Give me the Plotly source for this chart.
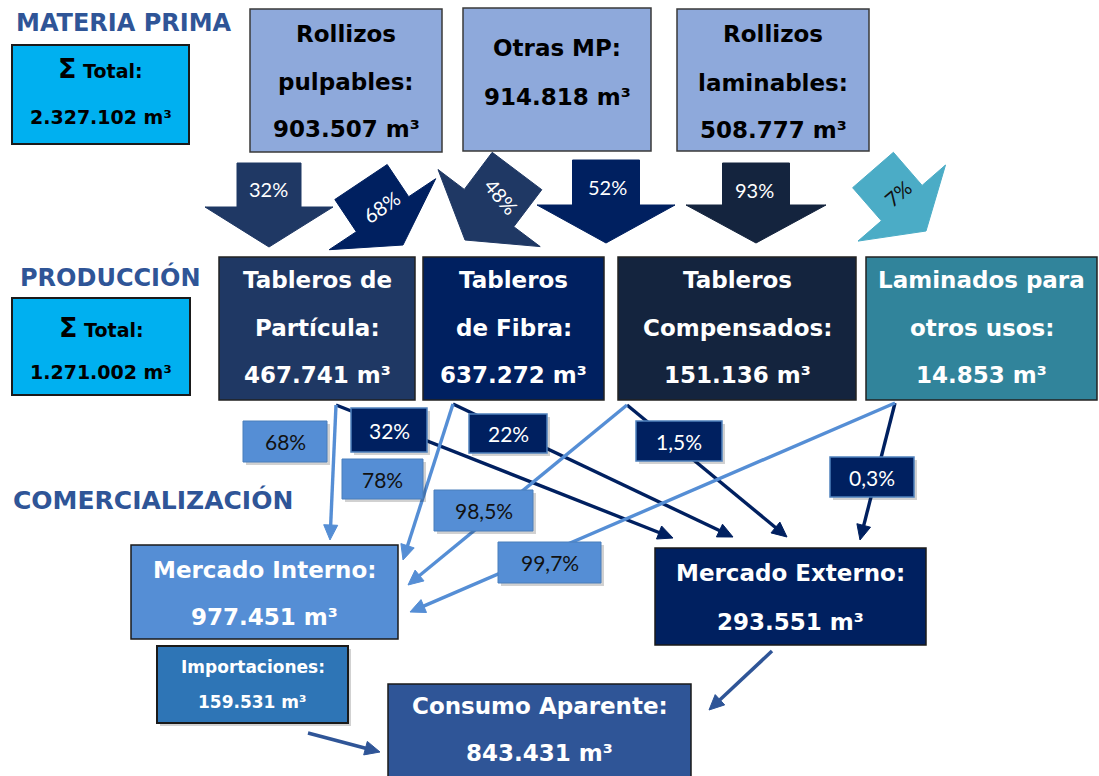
import math
import plotly.graph_objects as go

# ---------------- data ----------------
section_titles = ["MATERIA PRIMA", "PRODUCCIÓN", "COMERCIALIZACIÓN"]

mp_total = 2327102
mp_names = [["Rollizos", "pulpables:"], ["Otras MP:"], ["Rollizos", "laminables:"]]
mp_volumes = [903507, 914818, 508777]

prod_total = 1271002
prod_names = [["Tableros de", "Partícula:"], ["Tableros", "de Fibra:"],
              ["Tableros", "Compensados:"], ["Laminados para", "otros usos:"]]
prod_volumes = [467741, 637272, 151136, 14853]

# raw material -> production shares (block arrows)
mp_flow_labels = ["32%", "68%", "48%", "52%", "93%", "7%"]

# production -> market shares (per product)
interno_shares = ["68%", "78%", "98,5%", "99,7%"]
externo_shares = ["32%", "22%", "1,5%", "0,3%"]

market_names = ["Mercado Interno:", "Mercado Externo:"]
market_volumes = [977451, 293551]
import_name = "Importaciones:"
import_volume = 159531
consumo_name = "Consumo Aparente:"
consumo_volume = 843431

# ---------------- layout (pixel positions & styles) ----------------
W, H = 1099, 776
BOLD = "DejaVu Sans"
LBL = "Lato"
TITLE_C = "#2F5597"

title_pos = [(124, 23, 24), (110, 277, 24), (153, 500, 25)]
total_boxes = [(12, 45, 189, 144), (12, 298, 190, 395)]
total_lines_y = [(68, 117), (327, 372)]
mp_boxes = [(250, 9, 442, 152), (463, 8, 651, 151), (677, 9, 869, 151)]
mp_lines_y = [(34, 82, 129), (48, 97), (34, 83, 130)]
prod_boxes = [(219, 257, 415, 400), (423, 257, 604, 400), (618, 257, 856, 400), (866, 257, 1097, 400)]
prod_lines_y = (280, 328, 375)
prod_fills = ["#1F3864", "#002060", "#14243E", "#31849B"]

# block arrows: tail, tip, shaft width, head width, head length, fill, label pos, angle, text colour
block_arrows = [
    ((269, 163), (269, 247), 64, 128, 40, "#1F3864", (268, 189), 0, "white"),
    ((361, 182), (403, 245), 63, 128, 37, "#002060", (381, 207), -35, "white"),
    ((517, 171), (465, 240), 62, 128, 40, "#1F3864", (501, 196), 50, "white"),
    ((606, 160), (606, 243), 67, 138, 38, "#002060", (607, 187), 0, "white"),
    ((756, 163), (756, 243), 67, 140, 38, "#14243E", (754, 190), 0, "white"),
    ((873, 170), (926, 231), 54, 116, 37, "#4BACC6", (898, 193), -40, "#111111"),
]

line_starts = [(336, 405), (453, 404), (627, 405), (895, 403)]
interno_ends = [(330, 540), (403, 560), (408, 585), (410, 612)]
externo_ends = [(673, 538), (733, 537), (787, 537), (860, 540)]
interno_lbl_boxes = [(243, 421, 327, 462), (342, 459, 423, 499), (434, 490, 533, 531), (498, 542, 601, 583)]
externo_lbl_boxes = [(351, 408, 427, 452), (469, 414, 547, 453), (636, 421, 722, 461), (830, 457, 914, 497)]
LIGHT = "#558ED5"
DARK = "#002060"

mi_box = (131, 545, 398, 639); mi_lines = (570, 617)
me_box = (655, 548, 926, 645); me_lines = (573, 622)
imp_box = (157, 646, 348, 723); imp_lines = (667, 702)
con_box = (388, 684, 691, 800); con_lines = (706, 753)
imp_arrow = ((308, 733), (380, 752))
me_arrow = ((772, 651), (709, 710))

# ---------------- helpers ----------------
shapes = []
annotations = []


def fmt(v):
    return f"{v:,}".replace(",", ".") + " m³"


def rect(b, fill, lc="#000000", lw=1.5, shadow=False):
    x0, y0, x1, y1 = b
    if shadow:
        shapes.append(dict(type="rect", xref="x", yref="y", x0=x0 + 3, y0=y0 + 3, x1=x1 + 3, y1=y1 + 3,
                           fillcolor="rgba(0,0,0,0.18)", line=dict(width=0), layer="above"))
    shapes.append(dict(type="rect", xref="x", yref="y", x0=x0, y0=y0, x1=x1, y1=y1,
                       fillcolor=fill, line=dict(color=lc, width=lw), layer="above"))


def text(x, y, s, size, color, family=BOLD, bold=True, angle=0):
    annotations.append(dict(x=x, y=y, xref="x", yref="y", text=s, showarrow=False,
                            font=dict(family=family, size=size, color=color,
                                      weight="bold" if bold else "normal"),
                            textangle=angle, xanchor="center", yanchor="middle"))


def poly(pts, fill, lc=None, lw=0):
    path = "M " + " L ".join(f"{px:.1f},{py:.1f}" for px, py in pts) + " Z"
    shapes.append(dict(type="path", xref="x", yref="y", path=path, fillcolor=fill,
                       line=dict(color=lc or fill, width=lw), layer="above"))


def block_arrow(tail, tip, sw, hw, hl, fill):
    dx, dy = tip[0] - tail[0], tip[1] - tail[1]
    L = math.hypot(dx, dy)
    ux, uy = dx / L, dy / L
    nx, ny = -uy, ux
    hb = (tip[0] - hl * ux, tip[1] - hl * uy)
    pts = [
        (tail[0] + sw / 2 * nx, tail[1] + sw / 2 * ny),
        (hb[0] + sw / 2 * nx, hb[1] + sw / 2 * ny),
        (hb[0] + hw / 2 * nx, hb[1] + hw / 2 * ny),
        tip,
        (hb[0] - hw / 2 * nx, hb[1] - hw / 2 * ny),
        (hb[0] - sw / 2 * nx, hb[1] - sw / 2 * ny),
        (tail[0] - sw / 2 * nx, tail[1] - sw / 2 * ny),
    ]
    poly(pts, fill, lc=fill, lw=1)


def line_arrow(p0, p1, color, width=3.4, hl=15, hw=7):
    dx, dy = p1[0] - p0[0], p1[1] - p0[1]
    L = math.hypot(dx, dy)
    ux, uy = dx / L, dy / L
    nx, ny = -uy, ux
    end = (p1[0] - (hl - 4) * ux, p1[1] - (hl - 4) * uy)
    shapes.append(dict(type="line", xref="x", yref="y", x0=p0[0], y0=p0[1], x1=end[0], y1=end[1],
                       line=dict(color=color, width=width), layer="above"))
    b = (p1[0] - hl * ux, p1[1] - hl * uy)
    poly([(b[0] + hw * nx, b[1] + hw * ny), p1, (b[0] - hw * nx, b[1] - hw * ny)], color, lc=color, lw=1)


# ---------------- section titles ----------------
for t, (x, y, s) in zip(section_titles, title_pos):
    text(x, y, t, s, TITLE_C)

# ---------------- totals ----------------
for b, ys, v in zip(total_boxes, total_lines_y, [mp_total, prod_total]):
    rect(b, "#00B0F0", "#1A1A1A", 2)
    cx = (b[0] + b[2]) / 2
    text(cx, ys[0], "<span style='font-size:27px'>Σ</span> Total:", 19, "#000000")
    text(cx, ys[1], fmt(v), 19, "#000000")

# ---------------- raw material ----------------
for b, ys, names, v in zip(mp_boxes, mp_lines_y, mp_names, mp_volumes):
    rect(b, "#8EA9DB", "#3A3A3A", 1.5)
    cx = (b[0] + b[2]) / 2
    for y, n in zip(ys, names + [fmt(v)]):
        text(cx, y, n, 23, "#000000")

# ---------------- block arrows ----------------
for (tail, tip, sw, hw, hl, fill, lp, ang, tc), lab in zip(block_arrows, mp_flow_labels):
    block_arrow(tail, tip, sw, hw, hl, fill)
    text(lp[0], lp[1], lab, 20, tc, family=LBL, bold=False, angle=ang)

# ---------------- production ----------------
for b, names, v, fill in zip(prod_boxes, prod_names, prod_volumes, prod_fills):
    rect(b, fill, "#222222", 1.5)
    cx = (b[0] + b[2]) / 2
    for y, n in zip(prod_lines_y, names + [fmt(v)]):
        text(cx, y, n, 23, "#FFFFFF")

# ---------------- connector lines ----------------
for p0, pi, pe in zip(line_starts, interno_ends, externo_ends):
    line_arrow(p0, pe, DARK)
    line_arrow(p0, pi, LIGHT)

line_arrow(*imp_arrow, TITLE_C, width=3.5)
line_arrow(*me_arrow, TITLE_C, width=3.5)

# ---------------- share labels ----------------
for b, lab in zip(interno_lbl_boxes, interno_shares):
    rect(b, LIGHT, "#4A7EBB", 1, shadow=True)
    text((b[0] + b[2]) / 2, (b[1] + b[3]) / 2, lab, 21, "#111111", family=LBL, bold=False)
for b, lab in zip(externo_lbl_boxes, externo_shares):
    rect(b, DARK, "#4F81BD", 1.5, shadow=True)
    text((b[0] + b[2]) / 2, (b[1] + b[3]) / 2, lab, 21, "#FFFFFF", family=LBL, bold=False)

# ---------------- markets ----------------
rect(mi_box, LIGHT, "#1A1A1A", 1.5)
text((mi_box[0] + mi_box[2]) / 2, mi_lines[0], market_names[0], 23, "#FFFFFF")
text((mi_box[0] + mi_box[2]) / 2, mi_lines[1], fmt(market_volumes[0]), 23, "#FFFFFF")

rect(me_box, DARK, "#1A1A1A", 1.5)
text((me_box[0] + me_box[2]) / 2, me_lines[0], market_names[1], 23, "#FFFFFF")
text((me_box[0] + me_box[2]) / 2, me_lines[1], fmt(market_volumes[1]), 23, "#FFFFFF")

rect(imp_box, "#2E75B6", "#1A1A1A", 2, shadow=True)
text((imp_box[0] + imp_box[2]) / 2, imp_lines[0], import_name, 17, "#FFFFFF")
text((imp_box[0] + imp_box[2]) / 2, imp_lines[1], fmt(import_volume), 17, "#FFFFFF")

rect(con_box, "#2F5597", "#1A1A1A", 1.5)
text((con_box[0] + con_box[2]) / 2, con_lines[0], consumo_name, 23, "#FFFFFF")
text((con_box[0] + con_box[2]) / 2, con_lines[1], fmt(consumo_volume), 23, "#FFFFFF")

# ---------------- figure ----------------
fig = go.Figure()
fig.update_layout(
    width=W, height=H,
    margin=dict(l=0, r=0, t=0, b=0),
    paper_bgcolor="white", plot_bgcolor="white",
    xaxis=dict(range=[0, W], visible=False, fixedrange=True),
    yaxis=dict(range=[H, 0], visible=False, fixedrange=True),
    shapes=shapes, annotations=annotations, showlegend=False,
)
fig.write_html("out.html", config={"displayModeBar": False},
               post_script="document.body.style.margin='0';")
